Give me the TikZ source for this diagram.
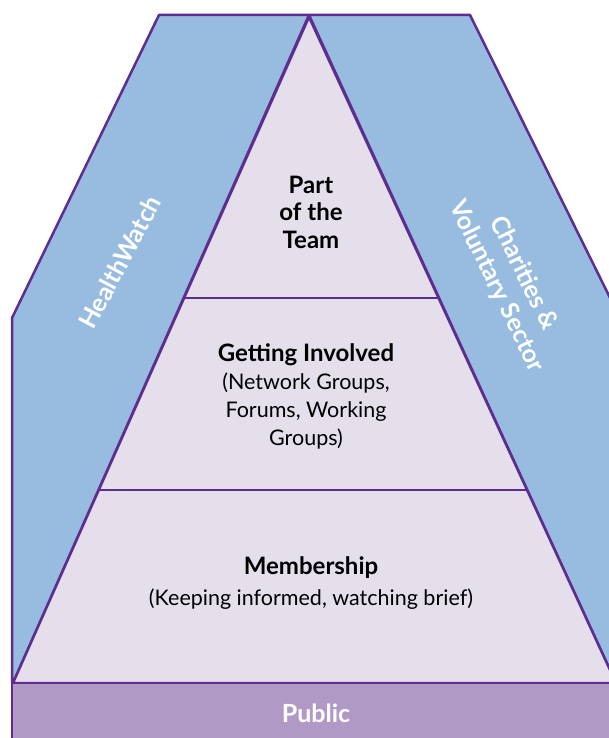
\documentclass[tikz,border=0pt]{standalone}
\usepackage{fontspec}
\setmainfont{Lato}
\definecolor{bandblue}{HTML}{97BCE0}
\definecolor{lilac}{HTML}{E5DFEC}
\definecolor{publicpurple}{HTML}{B199C5}
\definecolor{edgepurple}{HTML}{5D2D8F}
\tikzset{
  tierlabel/.style={align=center, text=black, font=\fontsize{21.5}{28}\selectfont},
  bandlabel/.style={align=center, text=white, font=\fontsize{25}{30}\selectfont\bfseries},
}
\begin{document}
\begin{tikzpicture}[x=1pt, y=-1pt, line join=round]
\useasboundingbox (0,0) rectangle (609,738);
\clip (0,0) rectangle (609,738);
\filldraw[fill=bandblue, draw=edgepurple, line width=2.5pt](159,15)--(309,15)--(13,683)--(12,683)--(12,318)--cycle;
\filldraw[fill=bandblue, draw=edgepurple, line width=2.5pt](309,15)--(470,15)--(622,322)--(622,683)--(616,683)--cycle;
\filldraw[fill=lilac, draw=edgepurple, line width=2.5pt](309,17)--(13,683)--(616,683)--cycle;
\draw[edgepurple, line width=1.5pt](184,298)--(439,298);
\draw[edgepurple, line width=1.5pt](99,490)--(527,490);
\filldraw[fill=publicpurple, draw=edgepurple, line width=2.5pt](12,683)--(622,683)--(622,745)--(12,745)--cycle;
\node[tierlabel, font=\fontsize{24}{27.5}\selectfont\bfseries] (team) at (311,212) {Part\\of the\\Team};
\node[tierlabel] (involved) at (306,396) {{\fontsize{24}{28}\selectfont\bfseries Getting Involved}\\(Network Groups,\\Forums, Working\\Groups)};
\node[tierlabel, font=\fontsize{21.5}{31}\selectfont] (members) at (311,583) {{\fontsize{24}{31}\selectfont\bfseries Membership}\\(Keeping informed, watching brief)};
\node[bandlabel, rotate=62] (healthwatch) at (120,262) {HealthWatch};
\node[bandlabel, rotate=-64] (charities) at (510,280) {Charities \&\\Voluntary Sector};
\node[bandlabel, font=\fontsize{25}{28}\selectfont\bfseries] (public) at (316,713) {Public};
\end{tikzpicture}
\end{document}
